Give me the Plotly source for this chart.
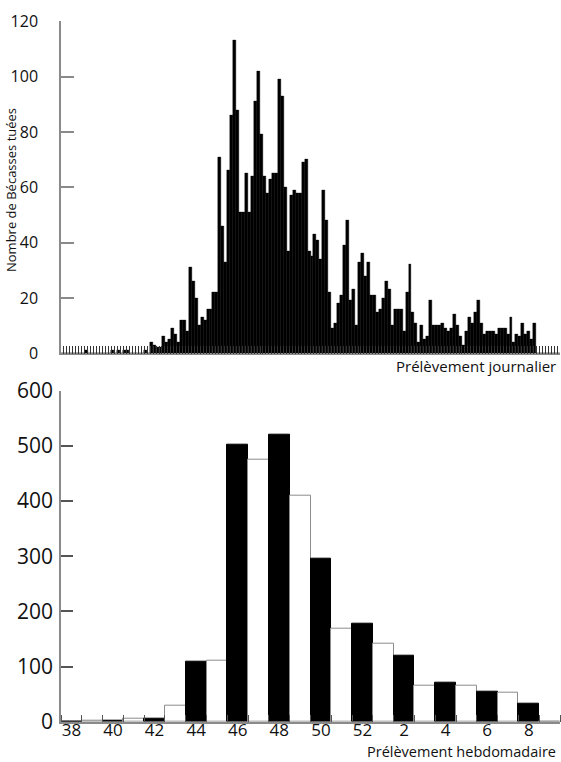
import plotly.graph_objects as go

# Daily harvest (168 days)
day_values = (
    [0, 0, 0, 0, 0, 0, 0, 0, 1, 0,
     0, 0, 0, 0, 0, 0, 0, 1, 0, 1,
     0, 1, 1, 0, 0, 0, 0, 0, 1, 0] +
    [4, 3, 2, 2, 6, 4, 5, 9, 7, 4,
     12, 12, 8, 31, 26, 20, 10, 13, 12, 16,
     16, 22, 22, 71, 46, 33, 66, 86, 113, 88,
     51, 51, 65, 51, 64, 91, 102, 79, 64, 58,
     63, 65, 65, 99, 93, 60, 37, 57, 59, 58,
     58, 69, 70, 37, 35, 43, 41, 34, 59, 48,
     22, 9, 11, 18, 21, 39, 48] +
    [19, 23, 10, 33, 36, 28, 33, 21, 21, 15,
     16, 20, 26, 23, 10, 16, 16, 16, 8, 22,
     32, 15, 11, 4, 10, 5, 6, 19, 10, 10,
     10, 11, 9, 8, 9, 14, 10, 6, 3, 8,
     13, 11, 15, 19, 11, 7, 8, 8, 8, 7,
     9, 9, 9, 7, 13, 4, 7, 6, 11, 7,
     8, 5, 11] +
    [0, 0, 0, 0, 0, 0, 0, 0]
)

# Weekly harvest
week_numbers = [38, 39, 40, 41, 42, 43, 44, 45, 46, 47, 48, 49, 50, 51, 52,
                1, 2, 3, 4, 5, 6, 7, 8, 9]
week_values = [0, 1, 1, 5, 5, 29, 108, 111, 503, 475, 520, 410, 296, 168, 178,
               142, 119, 65, 70, 65, 54, 53, 32, 0]

top_yticks = [0, 20, 40, 60, 80, 100, 120]
bottom_yticks = [0, 100, 200, 300, 400, 500, 600]

FONT = "Open Sans"
AXIS_GRAY = "#8a8a8a"
W, H = 561, 762
L, R = 61, 1
PW = W - L - R

n_days = len(day_values)
n_weeks = len(week_numbers)

fig = go.Figure()

fig.add_trace(go.Bar(
    x=[i + 0.5 for i in range(n_days)], y=day_values, width=1,
    marker=dict(color="black", line=dict(color="black", width=0.4)),
    xaxis="x", yaxis="y", showlegend=False, hoverinfo="x+y",
))

colors = ["black" if w % 2 == 0 else "white" for w in week_numbers]
lcolors = ["black" if w % 2 == 0 else "#8c8c8c" for w in week_numbers]
fig.add_trace(go.Bar(
    x=[i + 0.5 for i in range(n_weeks)], y=week_values, width=1,
    marker=dict(color=colors, line=dict(color=lcolors, width=1)),
    xaxis="x2", yaxis="y2", showlegend=False,
))

label_idx = [i for i, w in enumerate(week_numbers) if w % 2 == 0]

fig.update_layout(
    width=W, height=H,
    margin=dict(l=L, r=R, t=0, b=0, autoexpand=False),
    paper_bgcolor="white", plot_bgcolor="white",
    bargap=0,
    font=dict(family=FONT, color="#111"),
    xaxis=dict(
        domain=[0, 1], anchor="y", range=[0, n_days], automargin=False,
        tickmode="array", tickvals=list(range(n_days + 1)),
        ticks="inside", ticklen=8, tickwidth=1, tickcolor="#333",
        showticklabels=False, showgrid=False, zeroline=False,
        showline=True, linecolor=AXIS_GRAY, linewidth=1.5,
    ),
    yaxis=dict(
        domain=[(H - 353.3) / H, (H - 21.3) / H], anchor="x",
        range=[0, 120], tickmode="array", tickvals=top_yticks, automargin=False,
        ticks="inside", ticklen=13, tickcolor=AXIS_GRAY, tickwidth=1.5,
        ticklabelstandoff=18,
        tickfont=dict(size=16, family=FONT, color="#111"),
        showgrid=False, zeroline=False,
        showline=True, linecolor=AXIS_GRAY, linewidth=1.5,
    ),
    xaxis2=dict(
        domain=[0, 1], anchor="y2", range=[0, n_weeks], automargin=False,
        tickmode="array", tickvals=[i + 0.5 for i in label_idx],
        ticktext=[str(week_numbers[i]) for i in label_idx],
        ticks="", ticklabelstandoff=-8,
        tickfont=dict(size=17, family=FONT, color="#111"),
        minor=dict(tickmode="linear", tick0=0, dtick=1, ticks="inside",
                   ticklen=7, tickwidth=1, tickcolor="#555"),
        showgrid=False, zeroline=False,
        showline=True, linecolor=AXIS_GRAY, linewidth=1.5,
    ),
    yaxis2=dict(
        domain=[(H - 721.7) / H, (H - 390.7) / H], anchor="x2",
        range=[0, 600], tickmode="array", tickvals=bottom_yticks, automargin=False,
        ticks="inside", ticklen=12, tickcolor="#555", tickwidth=1.5,
        ticklabelstandoff=2,
        tickfont=dict(size=21, family=FONT, color="#111"),
        showgrid=False, zeroline=False,
        showline=True, linecolor=AXIS_GRAY, linewidth=1.5,
    ),
    annotations=[
        dict(text="Nombre de Bécasses tuées", xref="paper", yref="paper",
             x=(11 - L) / PW, y=(H - 190) / H, textangle=-90,
             showarrow=False, font=dict(size=13, family=FONT, color="#111"),
             xanchor="center", yanchor="middle"),
        dict(text="Prélèvement journalier", xref="paper", yref="paper",
             x=(558 - L) / PW, y=(H - 366) / H, xanchor="right",
             yanchor="middle", showarrow=False,
             font=dict(size=15, family=FONT, color="#111")),
        dict(text="Prélèvement hebdomadaire", xref="paper", yref="paper",
             x=(558 - L) / PW, y=(H - 751.5) / H, xanchor="right",
             yanchor="middle", showarrow=False,
             font=dict(size=14.5, family=FONT, color="#111")),
    ],
)

fig.write_html(
    "out.html",
    config={"displayModeBar": False},
    post_script="document.body.style.margin='0';document.body.style.overflow='hidden';",
)
